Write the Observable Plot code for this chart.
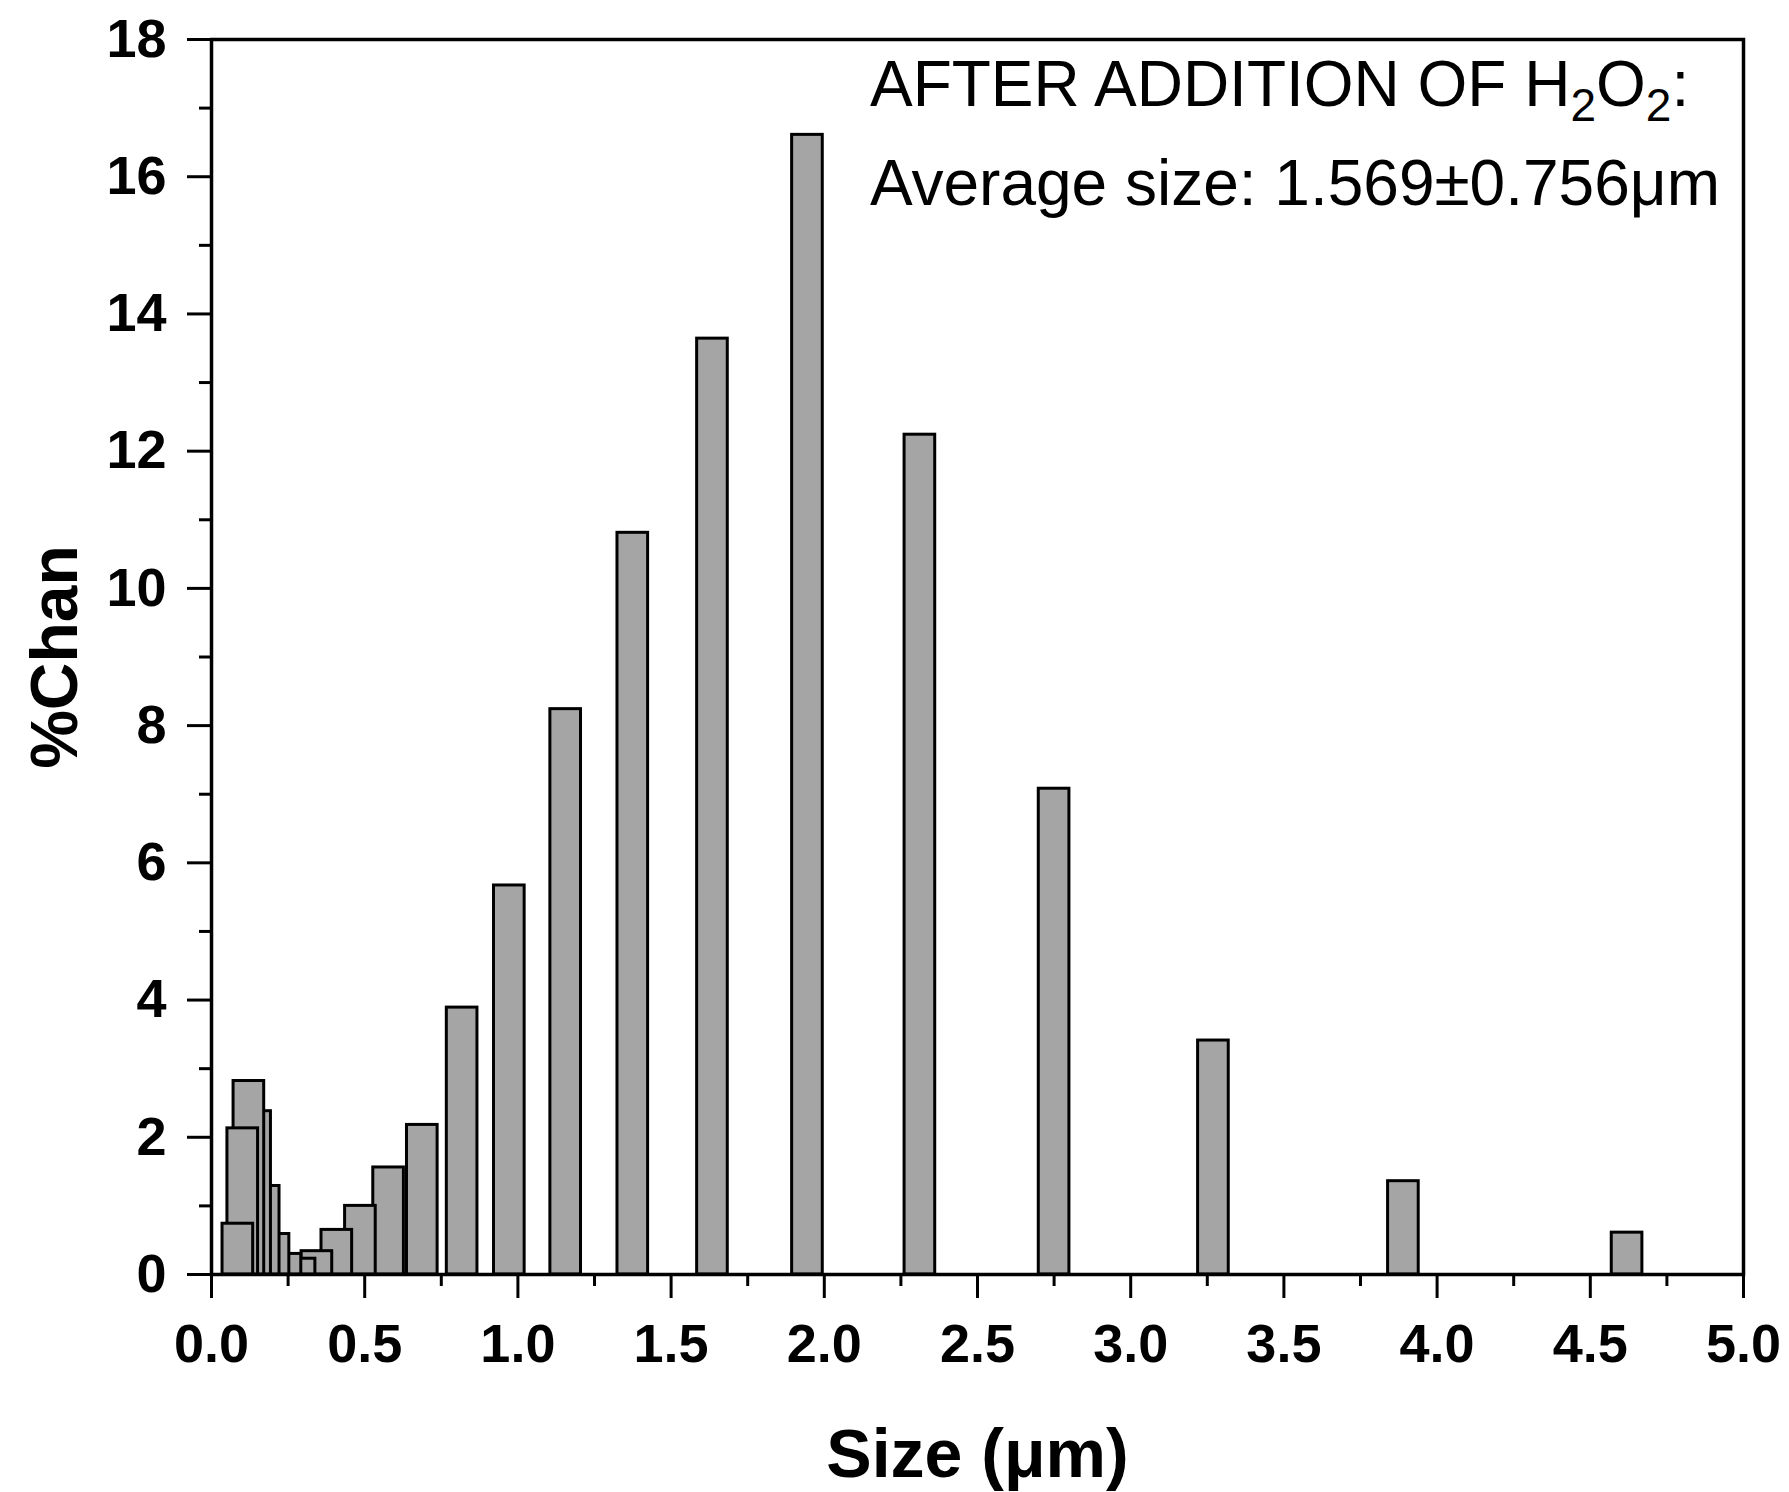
<!DOCTYPE html>
<html><head><meta charset="utf-8">
<script src="https://cdn.jsdelivr.net/npm/d3@7"></script>
<script src="https://cdn.jsdelivr.net/npm/@observablehq/plot@0.6"></script>
<style>body{margin:0;background:#fff} #chart svg{display:block}</style>
</head><body><div id="chart"></div>
<script>
// Channel sizes (µm) and %Chan values
const sizes = [0.0860, 0.102, 0.122, 0.144, 0.172, 0.204, 0.243, 0.289, 0.344, 0.409, 0.486, 0.578, 0.688, 0.818, 0.972, 1.156, 1.375, 1.635, 1.945, 2.312, 2.750, 3.270, 3.890, 4.620];
const chan  = [0.74, 2.13, 2.82, 2.38, 1.29, 0.59, 0.30, 0.23, 0.34, 0.65, 1.00, 1.56, 2.18, 3.89, 5.67, 8.24, 10.81, 13.64, 16.61, 12.24, 7.08, 3.41, 1.36, 0.61];
const barWidth = 0.1;
const xMajorTicks = [0, 0.5, 1, 1.5, 2, 2.5, 3, 3.5, 4, 4.5, 5];
const xMinorTicks = [0.25, 0.75, 1.25, 1.75, 2.25, 2.75, 3.25, 3.75, 4.25, 4.75];
const yMajorTicks = [0, 2, 4, 6, 8, 10, 12, 14, 16, 18];
const yMinorTicks = [1, 3, 5, 7, 9, 11, 13, 15, 17];
const xLabel = "Size (μm)";
const yLabel = "%Chan";
const noteLine1 = "AFTER ADDITION OF H2O2:";
const noteLine2 = "Average size: 1.569±0.756μm";
const notePos = [{x: 2.149, y: 17.03, t: noteLine1}, {x: 2.149, y: 15.59, t: noteLine2}];

const data = sizes.map((s, i) => ({size: s, chan: chan[i]})).sort((a, b) => b.size - a.size);

const font = "'Liberation Sans', Arial, Helvetica, sans-serif";
const plot = Plot.plot({
  width: 1789, height: 1492,
  marginLeft: 211, marginRight: 46, marginTop: 39, marginBottom: 218,
  style: {fontFamily: font, background: "#fff", color: "#000"},
  x: {domain: [0, 5]},
  y: {domain: [0, 18]},
  marks: [
    Plot.rect(data, {x1: d => d.size - barWidth / 2, x2: d => d.size + barWidth / 2, y1: 0, y2: "chan",
      fill: "#a5a5a5", stroke: "#000", strokeWidth: 3}),
    Plot.axisX({ticks: xMinorTicks, tickSize: 12, tickFormat: () => "", strokeWidth: 3, label: null}),
    Plot.axisX({ticks: xMajorTicks, tickSize: 24, tickPadding: 25, tickFormat: d3.format(".1f"),
      fontSize: 54, fontWeight: "bold", strokeWidth: 3, label: null}),
    Plot.axisY({ticks: yMinorTicks, tickSize: 12, tickFormat: () => "", strokeWidth: 3, label: null}),
    Plot.axisY({ticks: yMajorTicks, tickSize: 24, tickPadding: 21, tickFormat: d3.format("d"),
      fontSize: 54, fontWeight: "bold", strokeWidth: 3, label: null}),
    Plot.frame({strokeWidth: 3.5, stroke: "#000"}),
    Plot.text([yLabel], {text: d => d, frameAnchor: "left", dx: -156, rotate: -90, textAnchor: "middle", fontSize: 66, fontWeight: "bold", lineAnchor: "middle"}),
    Plot.text([xLabel], {text: d => d, frameAnchor: "bottom", dy: 181, textAnchor: "middle", fontSize: 68, fontWeight: "bold", lineAnchor: "middle"}),
    Plot.text(notePos.slice(0, 1), {x: "x", y: "y", text: "t", textAnchor: "start", lineAnchor: "bottom", fontSize: 64, className: "note1"}),
    Plot.text(notePos.slice(1), {x: "x", y: "y", text: "t", textAnchor: "start", lineAnchor: "bottom", fontSize: 64, className: "note2"})
  ]
});
document.getElementById("chart").appendChild(plot);

// Render the subscripts of H2O2 in the first note line
const t1 = d3.select(plot).select("g.note1 text");
if (!t1.empty()) {
  t1.text(null);
  const parts = [["AFTER ADDITION OF H", null, null], ["2", 46, 15], ["O", null, -15], ["2", 46, 15], [":", null, -15]];
  for (const [s, size, dy] of parts) {
    t1.append("tspan").attr("font-size", size).attr("dy", dy).text(s);
  }
}
</script>
</body></html>
